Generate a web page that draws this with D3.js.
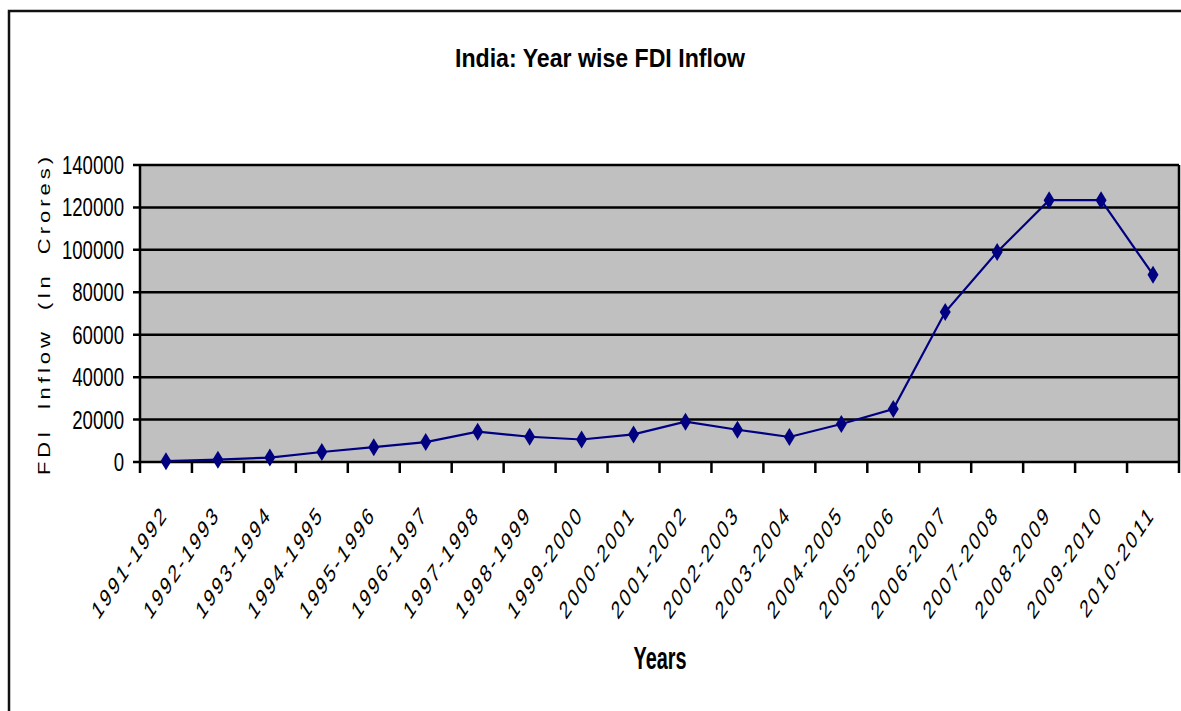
<!DOCTYPE html>
<html><head><meta charset="utf-8">
<script src="https://cdn.jsdelivr.net/npm/d3@7/dist/d3.min.js"></script>
<style>
html,body{margin:0;padding:0;background:#fff;}
svg{display:block;}
text{font-family:"Liberation Sans",Arial,sans-serif;fill:#000;}
</style></head>
<body>
<svg id="chart" width="1181" height="711"></svg>
<script>
const categories = ["1991-1992","1992-1993","1993-1994","1994-1995","1995-1996","1996-1997","1997-1998","1998-1999","1999-2000","2000-2001","2001-2002","2002-2003","2003-2004","2004-2005","2005-2006","2006-2007","2007-2008","2008-2009","2009-2010","2010-2011"];
const fdiInflow = [400,1100,2100,4700,7000,9400,14300,11900,10600,13000,19000,15200,11800,17900,25000,70700,99000,123400,123400,88300];
const yTicks = [0,20000,40000,60000,80000,100000,120000,140000];
const titleText = "India: Year wise FDI Inflow";
const xTitle = "Years";
const yTitle = "FDI Inflow (In Crores)";

const svg = d3.select("#chart");
const W = 1181, H = 711;
const plot = {left:140, right:1179, top:165, bottom:462};

// outer frame
svg.append("path").attr("d", `M9,${H} L9,11 L${W},11`).attr("fill","none").attr("stroke","#111").attr("stroke-width",2.5);

const x = d3.scaleBand().domain(categories).range([plot.left, plot.right]).padding(0);
const y = d3.scaleLinear().domain([0,140000]).range([plot.bottom, plot.top]);

// plot background
svg.append("rect").attr("x",plot.left).attr("y",plot.top)
  .attr("width",plot.right-plot.left).attr("height",plot.bottom-plot.top).attr("fill","#c0c0c0");

// gridlines
svg.append("g").selectAll("line").data(yTicks).join("line")
  .attr("x1",plot.left-7).attr("x2",plot.right)
  .attr("y1",d=>y(d)).attr("y2",d=>y(d))
  .attr("stroke","#000").attr("stroke-width",2.5);

// plot borders left/right
svg.append("line").attr("x1",plot.left).attr("x2",plot.left).attr("y1",plot.top).attr("y2",plot.bottom)
  .attr("stroke","#000").attr("stroke-width",2.5);
svg.append("line").attr("x1",plot.right).attr("x2",plot.right).attr("y1",plot.top).attr("y2",plot.bottom)
  .attr("stroke","#000").attr("stroke-width",2.5);

// x ticks at category boundaries
const bounds = categories.map(c=>x(c)).concat([plot.right]);
svg.append("g").selectAll("line").data(bounds).join("line")
  .attr("x1",d=>d).attr("x2",d=>d).attr("y1",plot.bottom).attr("y2",plot.bottom+11)
  .attr("stroke","#000").attr("stroke-width",2.5);

// y tick labels
svg.append("g").selectAll("text").data(yTicks).join("text")
  .attr("transform",d=>`translate(124,${y(d)+9}) scale(0.73,1)`)
  .attr("text-anchor","end").attr("font-size",25.5)
  .text(d=>d);

// x tick labels (rotated then horizontally compressed, as in the reference)
svg.append("g").selectAll("text").data(categories).join("text")
  .attr("transform",d=>`translate(${x(d)+x.bandwidth()/2+1},518) scale(0.667,1) rotate(-45)`)
  .attr("text-anchor","end").attr("font-size",25).attr("letter-spacing",3.2).attr("dx",3.2)
  .text(d=>d);

// line
const cx = d=>x(d)+x.bandwidth()/2;
const line = d3.line().x((d,i)=>cx(categories[i])).y(d=>y(d));
svg.append("path").datum(fdiInflow).attr("d",line)
  .attr("fill","none").attr("stroke","#000080").attr("stroke-width",2.2);

// diamond markers
svg.append("g").selectAll("path").data(fdiInflow).join("path")
  .attr("d",(d,i)=>{const px=cx(categories[i]), py=y(d);
     return `M${px},${py-9} L${px+5.5},${py} L${px},${py+9} L${px-5.5},${py} Z`;})
  .attr("fill","#000080");

// title
svg.append("text").attr("x",600).attr("y",67).attr("text-anchor","middle")
  .attr("font-size",25.5).attr("font-weight","bold")
  .attr("textLength",290).attr("lengthAdjust","spacingAndGlyphs").text(titleText);

// x title
svg.append("text").attr("x",660).attr("y",669).attr("text-anchor","middle")
  .attr("font-size",31).attr("font-weight","bold")
  .attr("textLength",53).attr("lengthAdjust","spacingAndGlyphs").text(xTitle);

// y title
svg.append("text").attr("transform",`translate(50,314) scale(0.75,1) rotate(-90)`)
  .attr("text-anchor","middle").attr("font-size",22)
  .attr("letter-spacing",4).attr("word-spacing",8).text(yTitle);
</script>
</body></html>
